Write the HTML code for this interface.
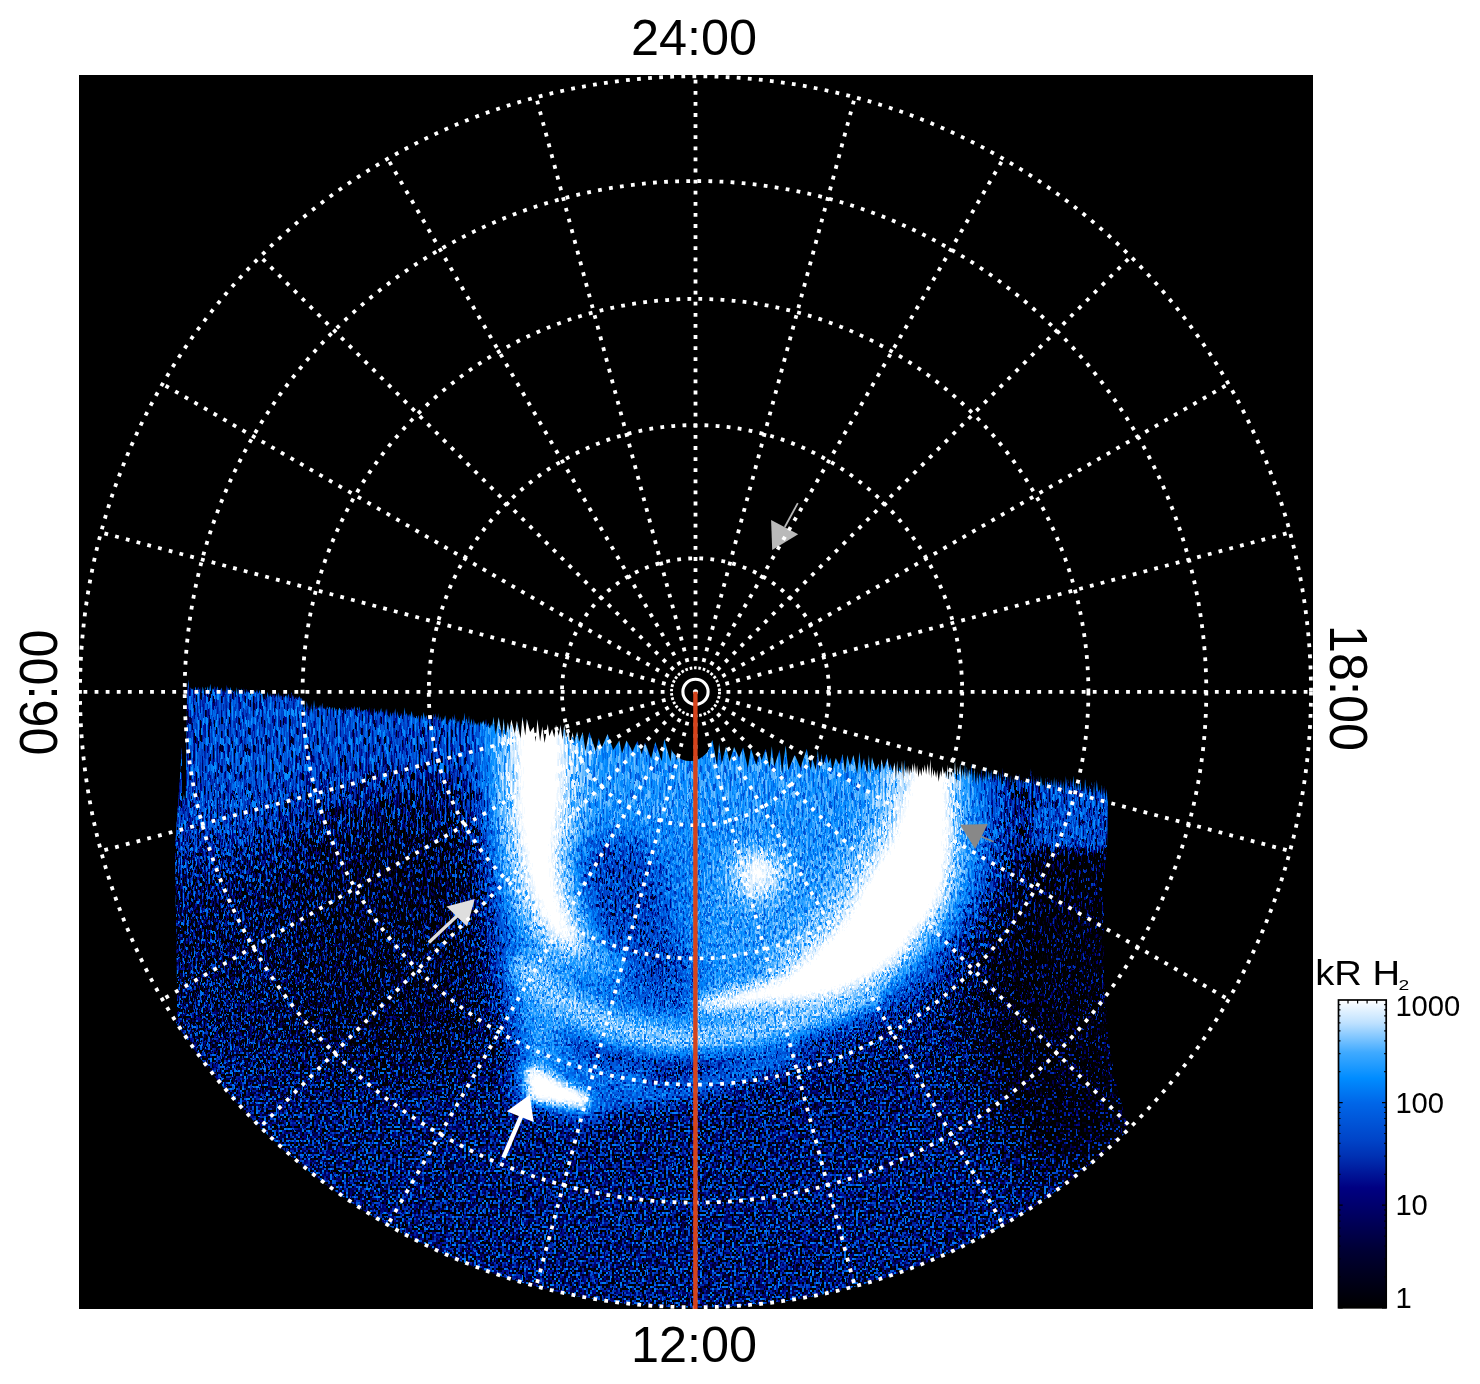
<!DOCTYPE html>
<html lang="en"><head><meta charset="utf-8"><title>Polar projection 24:00 06:00 12:00 18:00</title>
<style>html,body{margin:0;padding:0;background:#fff}svg{display:block}text{font-family:"Liberation Sans",sans-serif;fill:#000}</style></head><body>
<svg width="1480" height="1384" viewBox="0 0 1480 1384">
<defs>
<filter id="b30" x="-20%" y="-20%" width="140%" height="140%" color-interpolation-filters="sRGB"><feGaussianBlur stdDeviation="30"/></filter>
<filter id="b20" x="-20%" y="-20%" width="140%" height="140%" color-interpolation-filters="sRGB"><feGaussianBlur stdDeviation="20"/></filter>
<filter id="b12" x="-20%" y="-20%" width="140%" height="140%" color-interpolation-filters="sRGB"><feGaussianBlur stdDeviation="12"/></filter>
<filter id="b8" x="-20%" y="-20%" width="140%" height="140%" color-interpolation-filters="sRGB"><feGaussianBlur stdDeviation="8"/></filter>
<filter id="b6" x="-20%" y="-20%" width="140%" height="140%" color-interpolation-filters="sRGB"><feGaussianBlur stdDeviation="6"/></filter>
<filter id="b4" x="-20%" y="-20%" width="140%" height="140%" color-interpolation-filters="sRGB"><feGaussianBlur stdDeviation="4"/></filter>
<filter id="nz1" x="150" y="640" width="1010" height="690" filterUnits="userSpaceOnUse" color-interpolation-filters="sRGB">
<feTurbulence type="fractalNoise" baseFrequency="0.41 0.43" numOctaves="1" seed="3" result="t"/>
<feColorMatrix in="t" type="matrix" values="2.8 0 0 0 -0.8999999999999999  2.8 0 0 0 -0.8999999999999999  2.8 0 0 0 -0.8999999999999999  0 0 0 0 1" result="n0"/>
<feComponentTransfer in="n0" result="n"><feFuncR type="gamma" exponent="0.6"/><feFuncG type="gamma" exponent="0.6"/><feFuncB type="gamma" exponent="0.6"/></feComponentTransfer>
<feFlood flood-color="#fff" x="150" y="640" width="1" height="1" result="d"/><feComposite in="d" in2="d" operator="over" x="150" y="640" width="2" height="2" result="c"/><feTile in="c" result="grid"/><feComposite in="n" in2="grid" operator="in" result="smp"/><feOffset in="smp" dx="1" dy="0" result="o1"/><feMerge result="m1"><feMergeNode in="smp"/><feMergeNode in="o1"/></feMerge><feOffset in="m1" dx="0" dy="1" result="o2"/><feMerge result="np"><feMergeNode in="m1"/><feMergeNode in="o2"/></feMerge>
<feComponentTransfer in="SourceGraphic" result="ia"><feFuncG type="table" tableValues="0.750 0.744 0.738 0.731 0.725 0.719 0.713 0.706 0.700 0.675 0.650 0.625 0.600 0.575 0.544 0.512 0.480 0.451 0.422 0.394 0.365 0.336 0.307 0.279 0.250 0.231 0.212 0.194 0.175 0.159 0.155 0.152 0.148 0.144 0.140 0.137 0.133 0.130 0.095 0.060 0.000"/></feComponentTransfer>
<feColorMatrix in="ia" type="matrix" values="0.3333 -0.44 0 0 0.3333  0.3333 -0.44 0 0 0.3333  0.3333 -0.44 0 0 0.3333  0 0 0 0 1" result="T"/>
<feColorMatrix in="ia" type="matrix" values="0 1 0 0 0  0 1 0 0 0  0 1 0 0 0  0 0 0 0 1" result="A"/>
<feComposite in="A" in2="np" operator="arithmetic" k1="0.6667" k2="0" k3="0" k4="0" result="P"/>
<feComposite in="T" in2="P" operator="arithmetic" k1="0" k2="1" k3="1" k4="0" result="U"/>
<feComponentTransfer in="U">
<feFuncR type="table" tableValues="0.000 0.000 0.000 0.000 0.000 0.000 0.000 0.000 0.000 0.000 0.000 0.000 0.000 0.000 0.000 0.000 0.000 0.000 0.000 0.000 0.000 0.000 0.000 0.000 0.000 0.000 0.000 0.000 0.000 0.000 0.000 0.000 0.000 0.000 0.000 0.015 0.162 0.355 0.615 0.830 1.000 1.000 1.000 1.000 1.000 1.000 1.000 1.000 1.000 1.000 1.000 1.000 1.000 1.000 1.000 1.000 1.000 1.000 1.000 1.000 1.000"/>
<feFuncG type="table" tableValues="0.000 0.000 0.000 0.000 0.000 0.000 0.000 0.000 0.000 0.000 0.000 0.000 0.000 0.000 0.000 0.000 0.000 0.000 0.000 0.000 0.000 0.000 0.000 0.000 0.000 0.000 0.000 0.000 0.019 0.113 0.202 0.272 0.328 0.383 0.465 0.556 0.625 0.712 0.826 0.922 1.000 1.000 1.000 1.000 1.000 1.000 1.000 1.000 1.000 1.000 1.000 1.000 1.000 1.000 1.000 1.000 1.000 1.000 1.000 1.000 1.000"/>
<feFuncB type="table" tableValues="0.000 0.000 0.000 0.000 0.000 0.000 0.000 0.000 0.000 0.000 0.000 0.000 0.000 0.000 0.000 0.000 0.000 0.000 0.000 0.000 0.000 0.000 0.000 0.047 0.126 0.205 0.313 0.421 0.529 0.623 0.714 0.790 0.842 0.894 0.949 1.000 1.000 1.000 1.000 1.000 1.000 1.000 1.000 1.000 1.000 1.000 1.000 1.000 1.000 1.000 1.000 1.000 1.000 1.000 1.000 1.000 1.000 1.000 1.000 1.000 1.000"/>
</feComponentTransfer>
</filter>
<filter id="nz2" x="150" y="640" width="1010" height="690" filterUnits="userSpaceOnUse" color-interpolation-filters="sRGB">
<feTurbulence type="fractalNoise" baseFrequency="0.47 0.23" numOctaves="1" seed="11" result="t"/>
<feColorMatrix in="t" type="matrix" values="2.8 0 0 0 -0.8999999999999999  2.8 0 0 0 -0.8999999999999999  2.8 0 0 0 -0.8999999999999999  0 0 0 0 1" result="n0"/>
<feComponentTransfer in="n0" result="n"><feFuncR type="gamma" exponent="0.6"/><feFuncG type="gamma" exponent="0.6"/><feFuncB type="gamma" exponent="0.6"/></feComponentTransfer>
<feFlood flood-color="#fff" x="150" y="641" width="1" height="1" result="d0"/><feFlood flood-color="#fff" x="151" y="642" width="1" height="1" result="d1"/><feFlood flood-color="#fff" x="152" y="641" width="1" height="1" result="d2"/><feFlood flood-color="#fff" x="153" y="641" width="1" height="1" result="d3"/><feFlood flood-color="#fff" x="154" y="642" width="1" height="1" result="d4"/><feFlood flood-color="#fff" x="155" y="642" width="1" height="1" result="d5"/><feFlood flood-color="#fff" x="156" y="640" width="1" height="1" result="d6"/><feFlood flood-color="#fff" x="157" y="640" width="1" height="1" result="d7"/><feFlood flood-color="#fff" x="158" y="642" width="1" height="1" result="d8"/><feFlood flood-color="#fff" x="159" y="641" width="1" height="1" result="d9"/><feFlood flood-color="#fff" x="160" y="642" width="1" height="1" result="d10"/><feFlood flood-color="#fff" x="161" y="642" width="1" height="1" result="d11"/><feFlood flood-color="#fff" x="162" y="640" width="1" height="1" result="d12"/><feFlood flood-color="#fff" x="163" y="640" width="1" height="1" result="d13"/><feFlood flood-color="#fff" x="164" y="641" width="1" height="1" result="d14"/><feFlood flood-color="#fff" x="165" y="641" width="1" height="1" result="d15"/><feMerge x="150" y="640" width="16" height="3" result="c"><feMergeNode in="d0"/><feMergeNode in="d1"/><feMergeNode in="d2"/><feMergeNode in="d3"/><feMergeNode in="d4"/><feMergeNode in="d5"/><feMergeNode in="d6"/><feMergeNode in="d7"/><feMergeNode in="d8"/><feMergeNode in="d9"/><feMergeNode in="d10"/><feMergeNode in="d11"/><feMergeNode in="d12"/><feMergeNode in="d13"/><feMergeNode in="d14"/><feMergeNode in="d15"/></feMerge><feTile in="c" result="grid"/><feComposite in="n" in2="grid" operator="in" result="smp"/><feMorphology in="smp" operator="dilate" radius="0 1" result="np"/>
<feComponentTransfer in="SourceGraphic" result="ia"><feFuncG type="table" tableValues="0.750 0.744 0.738 0.731 0.725 0.719 0.713 0.706 0.700 0.675 0.650 0.625 0.600 0.575 0.544 0.512 0.480 0.451 0.422 0.394 0.365 0.336 0.307 0.279 0.250 0.231 0.212 0.194 0.175 0.159 0.155 0.152 0.148 0.144 0.140 0.137 0.133 0.130 0.095 0.060 0.000"/></feComponentTransfer>
<feColorMatrix in="ia" type="matrix" values="0.3333 -0.44 0 0 0.3333  0.3333 -0.44 0 0 0.3333  0.3333 -0.44 0 0 0.3333  0 0 0 0 1" result="T"/>
<feColorMatrix in="ia" type="matrix" values="0 1 0 0 0  0 1 0 0 0  0 1 0 0 0  0 0 0 0 1" result="A"/>
<feComposite in="A" in2="np" operator="arithmetic" k1="0.6667" k2="0" k3="0" k4="0" result="P"/>
<feComposite in="T" in2="P" operator="arithmetic" k1="0" k2="1" k3="1" k4="0" result="U"/>
<feComponentTransfer in="U">
<feFuncR type="table" tableValues="0.000 0.000 0.000 0.000 0.000 0.000 0.000 0.000 0.000 0.000 0.000 0.000 0.000 0.000 0.000 0.000 0.000 0.000 0.000 0.000 0.000 0.000 0.000 0.000 0.000 0.000 0.000 0.000 0.000 0.000 0.000 0.000 0.000 0.000 0.000 0.015 0.162 0.355 0.615 0.830 1.000 1.000 1.000 1.000 1.000 1.000 1.000 1.000 1.000 1.000 1.000 1.000 1.000 1.000 1.000 1.000 1.000 1.000 1.000 1.000 1.000"/>
<feFuncG type="table" tableValues="0.000 0.000 0.000 0.000 0.000 0.000 0.000 0.000 0.000 0.000 0.000 0.000 0.000 0.000 0.000 0.000 0.000 0.000 0.000 0.000 0.000 0.000 0.000 0.000 0.000 0.000 0.000 0.000 0.019 0.113 0.202 0.272 0.328 0.383 0.465 0.556 0.625 0.712 0.826 0.922 1.000 1.000 1.000 1.000 1.000 1.000 1.000 1.000 1.000 1.000 1.000 1.000 1.000 1.000 1.000 1.000 1.000 1.000 1.000 1.000 1.000"/>
<feFuncB type="table" tableValues="0.000 0.000 0.000 0.000 0.000 0.000 0.000 0.000 0.000 0.000 0.000 0.000 0.000 0.000 0.000 0.000 0.000 0.000 0.000 0.000 0.000 0.000 0.000 0.047 0.126 0.205 0.313 0.421 0.529 0.623 0.714 0.790 0.842 0.894 0.949 1.000 1.000 1.000 1.000 1.000 1.000 1.000 1.000 1.000 1.000 1.000 1.000 1.000 1.000 1.000 1.000 1.000 1.000 1.000 1.000 1.000 1.000 1.000 1.000 1.000 1.000"/>
</feComponentTransfer>
</filter>
<filter id="nz3" x="150" y="640" width="1010" height="690" filterUnits="userSpaceOnUse" color-interpolation-filters="sRGB">
<feTurbulence type="fractalNoise" baseFrequency="0.47 0.11" numOctaves="1" seed="23" result="t"/>
<feColorMatrix in="t" type="matrix" values="2.8 0 0 0 -0.8999999999999999  2.8 0 0 0 -0.8999999999999999  2.8 0 0 0 -0.8999999999999999  0 0 0 0 1" result="n0"/>
<feComponentTransfer in="n0" result="n"><feFuncR type="gamma" exponent="0.6"/><feFuncG type="gamma" exponent="0.6"/><feFuncB type="gamma" exponent="0.6"/></feComponentTransfer>
<feFlood flood-color="#fff" x="150" y="646" width="1" height="1" result="d0"/><feFlood flood-color="#fff" x="151" y="642" width="1" height="1" result="d1"/><feFlood flood-color="#fff" x="152" y="646" width="1" height="1" result="d2"/><feFlood flood-color="#fff" x="153" y="640" width="1" height="1" result="d3"/><feFlood flood-color="#fff" x="154" y="640" width="1" height="1" result="d4"/><feFlood flood-color="#fff" x="155" y="644" width="1" height="1" result="d5"/><feFlood flood-color="#fff" x="156" y="642" width="1" height="1" result="d6"/><feFlood flood-color="#fff" x="157" y="643" width="1" height="1" result="d7"/><feFlood flood-color="#fff" x="158" y="643" width="1" height="1" result="d8"/><feFlood flood-color="#fff" x="159" y="644" width="1" height="1" result="d9"/><feFlood flood-color="#fff" x="160" y="642" width="1" height="1" result="d10"/><feFlood flood-color="#fff" x="161" y="641" width="1" height="1" result="d11"/><feFlood flood-color="#fff" x="162" y="645" width="1" height="1" result="d12"/><feFlood flood-color="#fff" x="163" y="641" width="1" height="1" result="d13"/><feFlood flood-color="#fff" x="164" y="642" width="1" height="1" result="d14"/><feFlood flood-color="#fff" x="165" y="643" width="1" height="1" result="d15"/><feMerge x="150" y="640" width="16" height="7" result="c"><feMergeNode in="d0"/><feMergeNode in="d1"/><feMergeNode in="d2"/><feMergeNode in="d3"/><feMergeNode in="d4"/><feMergeNode in="d5"/><feMergeNode in="d6"/><feMergeNode in="d7"/><feMergeNode in="d8"/><feMergeNode in="d9"/><feMergeNode in="d10"/><feMergeNode in="d11"/><feMergeNode in="d12"/><feMergeNode in="d13"/><feMergeNode in="d14"/><feMergeNode in="d15"/></feMerge><feTile in="c" result="grid"/><feComposite in="n" in2="grid" operator="in" result="smp"/><feMorphology in="smp" operator="dilate" radius="0 3" result="np"/>
<feComponentTransfer in="SourceGraphic" result="ia"><feFuncG type="table" tableValues="0.750 0.744 0.738 0.731 0.725 0.719 0.713 0.706 0.700 0.675 0.650 0.625 0.600 0.575 0.544 0.512 0.480 0.451 0.422 0.394 0.365 0.336 0.307 0.279 0.250 0.231 0.212 0.194 0.175 0.159 0.155 0.152 0.148 0.144 0.140 0.137 0.133 0.130 0.095 0.060 0.000"/></feComponentTransfer>
<feColorMatrix in="ia" type="matrix" values="0.3333 -0.44 0 0 0.3333  0.3333 -0.44 0 0 0.3333  0.3333 -0.44 0 0 0.3333  0 0 0 0 1" result="T"/>
<feColorMatrix in="ia" type="matrix" values="0 1 0 0 0  0 1 0 0 0  0 1 0 0 0  0 0 0 0 1" result="A"/>
<feComposite in="A" in2="np" operator="arithmetic" k1="0.6667" k2="0" k3="0" k4="0" result="P"/>
<feComposite in="T" in2="P" operator="arithmetic" k1="0" k2="1" k3="1" k4="0" result="U"/>
<feComponentTransfer in="U">
<feFuncR type="table" tableValues="0.000 0.000 0.000 0.000 0.000 0.000 0.000 0.000 0.000 0.000 0.000 0.000 0.000 0.000 0.000 0.000 0.000 0.000 0.000 0.000 0.000 0.000 0.000 0.000 0.000 0.000 0.000 0.000 0.000 0.000 0.000 0.000 0.000 0.000 0.000 0.015 0.162 0.355 0.615 0.830 1.000 1.000 1.000 1.000 1.000 1.000 1.000 1.000 1.000 1.000 1.000 1.000 1.000 1.000 1.000 1.000 1.000 1.000 1.000 1.000 1.000"/>
<feFuncG type="table" tableValues="0.000 0.000 0.000 0.000 0.000 0.000 0.000 0.000 0.000 0.000 0.000 0.000 0.000 0.000 0.000 0.000 0.000 0.000 0.000 0.000 0.000 0.000 0.000 0.000 0.000 0.000 0.000 0.000 0.019 0.113 0.202 0.272 0.328 0.383 0.465 0.556 0.625 0.712 0.826 0.922 1.000 1.000 1.000 1.000 1.000 1.000 1.000 1.000 1.000 1.000 1.000 1.000 1.000 1.000 1.000 1.000 1.000 1.000 1.000 1.000 1.000"/>
<feFuncB type="table" tableValues="0.000 0.000 0.000 0.000 0.000 0.000 0.000 0.000 0.000 0.000 0.000 0.000 0.000 0.000 0.000 0.000 0.000 0.000 0.000 0.000 0.000 0.000 0.000 0.047 0.126 0.205 0.313 0.421 0.529 0.623 0.714 0.790 0.842 0.894 0.949 1.000 1.000 1.000 1.000 1.000 1.000 1.000 1.000 1.000 1.000 1.000 1.000 1.000 1.000 1.000 1.000 1.000 1.000 1.000 1.000 1.000 1.000 1.000 1.000 1.000 1.000"/>
</feComponentTransfer>
</filter>
<clipPath id="dc"><polygon points="186.0,670.0 243.0,667.0 301.0,674.0 306.0,683.0 365.0,686.0 413.0,691.0 462.0,697.0 510.0,703.0 549.0,708.0 597.0,716.0 646.0,722.0 690.0,725.0 743.0,732.0 792.0,735.0 840.0,738.0 921.0,746.0 982.0,751.0 1043.0,758.0 1083.0,762.0 1104.0,768.0 1108.0,775.0 1107.0,849.0 1104.0,875.0 1104.0,982.0 1108.6,1040.0 1116.0,1083.0 1127.0,1124.0 1140.0,1160.0 1140.0,1320.0 170.0,1320.0 170.0,1060.0 177.0,1015.0 177.0,988.0 175.0,848.0 180.0,777.0 186.0,688.0"/></clipPath>
<clipPath id="cc"><circle cx="695.5" cy="691.8" r="616.0"/></clipPath>
<linearGradient id="g2" gradientUnits="userSpaceOnUse" x1="0" y1="1120" x2="0" y2="900"><stop offset="0" stop-color="#000"/><stop offset="1" stop-color="#fff"/></linearGradient>
<linearGradient id="g3" gradientUnits="userSpaceOnUse" x1="0" y1="900" x2="0" y2="770"><stop offset="0" stop-color="#000"/><stop offset="1" stop-color="#fff"/></linearGradient>
<filter id="dith" x="150" y="640" width="1010" height="690" filterUnits="userSpaceOnUse" color-interpolation-filters="sRGB"><feTurbulence type="fractalNoise" baseFrequency="0.93 0.13" numOctaves="1" seed="5" result="t"/><feColorMatrix in="t" type="matrix" values="3 0 0 0 -1  3 0 0 0 -1  3 0 0 0 -1  0 0 0 0 1" result="n"/><feComposite in="SourceGraphic" in2="n" operator="arithmetic" k1="0" k2="1" k3="1" k4="-0.5"/><feComponentTransfer><feFuncR type="discrete" tableValues="0 1"/><feFuncG type="discrete" tableValues="0 1"/><feFuncB type="discrete" tableValues="0 1"/></feComponentTransfer></filter>
<mask id="m2" maskUnits="userSpaceOnUse" x="150" y="640" width="1010" height="690"><rect x="150" y="640" width="1010" height="690" fill="url(#g2)" filter="url(#dith)"/></mask>
<mask id="m3" maskUnits="userSpaceOnUse" x="150" y="640" width="1010" height="690"><rect x="150" y="640" width="1010" height="690" fill="url(#g3)" filter="url(#dith)"/></mask>
<g id="I">
<rect x="150" y="640" width="1010" height="690" fill="rgb(94,94,94)"/>
<g filter="url(#b30)">
<polygon points="150,800 300,800 300,1060 150,1040" fill="rgb(71,71,71)"/>
<polygon points="300,800 470,790 495,900 500,1000 470,1080 300,1070" fill="rgb(38,38,38)"/>
<polygon points="1020,850 1160,850 1160,1180 1040,1180 980,1080 970,960" fill="rgb(0,0,0)"/>
<polygon points="150,620 540,660 540,770 430,795 320,810 280,850 150,870" fill="rgb(145,145,145)"/>
</g>
<g filter="url(#b20)">
<polygon points="480,680 1005,720 1000,880 945,970 865,1020 770,1050 660,1058 560,1050 500,1010 488,900 480,800" fill="rgb(184,184,184)"/>
</g>
<g filter="url(#b12)">
<polygon points="560,700 925,730 915,800 880,850 700,830 600,830 565,800" fill="rgb(196,196,196)"/>
<polygon points="700,840 860,850 850,900 800,950 740,975 700,975" fill="rgb(199,199,199)"/>
<path d="M590,960 Q650,1000 700,1000" fill="none" stroke="rgb(153,153,153)" stroke-width="30"/>
<polygon points="566,846 636,840 662,880 668,930 690,960 686,984 650,980 606,960 572,920" fill="rgb(138,138,138)"/>
<ellipse cx="759" cy="874" rx="30" ry="30" fill="rgb(242,242,242)"/>
<polygon points="518,722 561,722 561,781 557,821 553,850 555,880 560,905 568,928 578,943 566,942 552,929 541,911 531,886 524,850 519,821 518,781" fill="rgb(235,235,235)" stroke="rgb(235,235,235)" stroke-width="48" stroke-linejoin="round"/>
<path d="M575,945 L598,962 L620,968" fill="none" stroke="rgb(219,219,219)" stroke-width="26" stroke-linecap="round"/>
<path d="M900,760 L890,816 L878,844 L858,873 L842,901 L824,929 L796,957 L770,972" fill="none" stroke="rgb(217,217,217)" stroke-width="46" stroke-linejoin="round"/>
<polygon points="914,750 944,750 946,790 946,845 943,873 936,901 915,929 893,957 868,976 836,993 800,997 800,968 814,957 842,929 859,901 874,873 893,844 902,816 911,788" fill="rgb(237,237,237)" stroke="rgb(237,237,237)" stroke-width="36" stroke-linejoin="round"/>
<polygon points="914,750 944,750 946,790 946,845 943,873 936,901 915,929 893,957 868,976 836,993 776,1001 727,1006 700,1007 700,1003 727,997 776,981 789,976 814,957 842,929 859,901 874,873 893,844 902,816 911,788" fill="rgb(230,230,230)" stroke="rgb(230,230,230)" stroke-width="14" stroke-linejoin="round"/>
<polygon points="914,750 944,750 946,790 946,845 943,873 936,901 915,929 893,957 868,976 836,993 800,997 800,968 814,957 842,929 859,901 874,873 893,844 902,816 911,788" fill="rgb(247,247,247)" stroke="rgb(247,247,247)" stroke-width="14" stroke-linejoin="round"/>
<path d="M531,1082 L585,1100" fill="none" stroke="rgb(214,214,214)" stroke-width="40" stroke-linecap="round"/>
<path d="M536,985 L545,1085" fill="none" stroke="rgb(204,204,204)" stroke-width="44"/>
</g>
<g filter="url(#b8)">
<path d="M524,968 L563,1003 L616,1028 L658,1037 L700,1038 L746,1033 L791,1021 L826,1007 L866,990" fill="none" stroke="rgb(224,224,224)" stroke-width="32" stroke-linejoin="round" stroke-linecap="round"/>
<ellipse cx="758" cy="874" rx="13" ry="17" fill="#fff"/>
<path d="M585,1100 L650,1097 L720,1080 L800,1050" fill="none" stroke="rgb(173,173,173)" stroke-width="20" stroke-linejoin="round"/>
<path d="M545,1050 L600,1075 L650,1078" fill="none" stroke="rgb(189,189,189)" stroke-width="18" stroke-linejoin="round"/>
</g>
<g filter="url(#b4)">
<polygon points="1038,750 1160,760 1160,849 1030,849" fill="rgb(148,148,148)"/>
<polygon points="1026,853 1160,853 1160,877 1040,877" fill="rgb(0,0,0)"/>
</g>
<g filter="url(#b6)">
<polygon points="518,722 561,722 561,781 557,821 553,850 555,880 560,905 568,928 578,943 566,942 552,929 541,911 531,886 524,850 519,821 518,781" fill="#fff" stroke="#fff" stroke-width="7" stroke-linejoin="round"/>
<polygon points="914,750 944,750 946,790 946,845 943,873 936,901 915,929 893,957 868,976 836,993 776,1001 727,1006 700,1007 700,1003 727,997 776,981 789,976 814,957 842,929 859,901 874,873 893,844 902,816 911,788" fill="#fff" stroke="#fff" stroke-width="7" stroke-linejoin="round"/>
</g>
<g filter="url(#b4)">
<polygon points="526,1068 540,1070 562,1083 588,1095 587,1107 560,1105 529,1100" fill="#fff" stroke="#fff" stroke-width="4" stroke-linejoin="round"/>
</g>
</g>
</defs>
<rect x="0" y="0" width="1480" height="1384" fill="#fff"/>
<rect x="79" y="75" width="1234" height="1234" fill="#000"/>
<g clip-path="url(#cc)"><g clip-path="url(#dc)">
<use href="#I" filter="url(#nz1)"/>
<use href="#I" filter="url(#nz2)" mask="url(#m2)"/>
<use href="#I" filter="url(#nz3)" mask="url(#m3)"/>
</g>
<path d="M182 640L182.0 798.1L183.1 801.3L183.9 794.1L184.8 799.6L185.6 798.2L187.1 691.9L188.4 679.8L189.5 691.3L190.5 687.3L192.0 690.0L193.3 687.9L194.1 690.3L195.5 686.5L196.8 691.5L198.2 686.4L199.5 690.1L200.8 686.9L201.7 694.6L202.7 686.5L204.1 691.8L205.1 687.0L206.4 691.1L207.9 686.3L208.8 692.5L210.4 683.7L211.5 694.1L212.4 688.2L213.3 690.0L214.8 685.9L216.1 690.9L217.6 686.1L218.6 690.7L219.6 687.7L220.5 690.1L221.6 687.5L222.7 692.1L224.0 689.5L225.3 693.6L226.8 684.8L227.9 690.8L228.7 687.7L229.7 691.0L230.6 686.8L231.4 691.6L232.3 689.7L233.4 692.5L235.0 689.9L235.9 694.0L236.9 686.9L237.7 696.1L238.6 687.3L240.2 692.5L241.2 688.6L242.6 692.1L243.7 687.6L245.3 694.3L246.7 688.7L248.0 692.9L249.0 689.8L250.5 695.7L252.1 691.0L253.1 694.8L254.1 690.3L255.5 693.1L257.0 689.5L258.5 693.8L259.7 689.8L260.8 694.9L261.9 690.7L263.3 701.0L264.8 690.9L266.4 699.5L267.6 691.7L268.9 697.7L270.1 693.0L271.0 696.9L272.0 693.7L273.2 696.6L274.3 692.9L275.8 697.2L277.0 693.2L277.8 698.5L278.6 692.3L279.8 697.7L280.8 694.9L282.3 697.1L283.3 693.5L284.5 697.9L286.0 694.0L287.2 698.6L288.4 693.6L289.9 697.9L291.5 692.0L293.0 697.6L294.2 694.4L295.0 698.2L296.6 696.6L297.9 698.7L299.5 695.7L300.6 698.8L302.0 698.3L303.3 708.2L304.3 703.6L305.5 713.2L306.8 701.1L308.2 710.3L309.0 705.3L309.9 713.1L311.4 703.2L312.6 714.0L314.0 699.7L315.3 711.0L316.2 705.2L317.2 708.3L318.2 706.9L319.2 708.7L320.1 704.6L321.1 708.7L322.3 702.7L323.1 708.9L324.4 707.2L325.9 710.1L327.1 705.9L328.2 709.7L329.8 705.6L331.1 710.1L332.2 707.1L333.6 711.8L334.5 707.1L335.8 710.5L336.8 707.3L338.0 711.0L339.6 707.3L341.1 710.5L341.9 707.8L343.1 712.8L343.9 708.5L344.8 711.4L345.8 706.3L347.2 710.8L348.7 708.3L350.3 709.7L351.6 706.7L353.1 710.2L354.5 706.1L355.7 712.0L357.2 706.7L358.5 710.5L359.4 706.3L360.3 712.4L361.6 709.5L362.8 712.0L364.2 709.4L365.5 710.6L366.5 709.1L367.9 712.4L369.4 707.6L370.6 714.9L371.9 707.7L372.9 713.2L374.2 708.1L375.5 713.3L376.5 710.5L377.7 715.2L378.7 709.4L379.5 713.5L381.1 707.9L382.0 712.6L383.3 711.1L384.9 715.7L386.1 708.6L387.1 712.6L387.9 708.6L389.0 719.9L390.1 711.9L391.6 716.4L392.9 711.2L394.0 714.7L395.3 708.3L396.3 717.0L397.3 711.2L398.4 717.3L399.5 711.0L400.9 716.1L402.5 710.9L403.3 716.7L404.7 707.5L405.5 715.6L406.6 713.1L408.2 716.9L409.2 713.7L410.2 716.8L411.7 710.9L413.2 718.4L414.1 714.0L415.0 718.8L416.3 713.6L417.4 719.2L418.5 714.9L420.1 719.4L421.4 714.8L422.4 720.0L423.5 712.1L425.0 718.5L426.6 714.9L427.4 720.2L428.8 716.2L429.8 719.9L431.0 714.5L432.4 723.8L433.6 713.8L434.6 718.4L435.6 713.6L436.9 720.4L438.1 713.3L439.1 722.0L440.3 716.3L441.8 722.4L442.8 718.3L443.8 720.6L445.2 715.2L446.5 720.7L447.3 718.2L448.7 721.5L450.1 718.1L451.7 720.9L452.6 716.0L453.7 721.1L454.6 713.7L456.0 725.4L456.9 718.6L457.8 723.5L459.3 719.1L460.8 727.6L462.4 719.4L463.5 721.5L464.4 712.6L465.5 723.1L466.5 716.8L467.9 725.4L469.0 715.6L470.1 726.3L471.6 718.5L472.4 725.9L473.8 718.6L474.8 725.6L475.8 722.4L476.9 725.5L478.4 721.9L479.2 727.0L480.8 721.5L481.8 724.4L483.3 720.3L484.7 725.4L486.0 719.0L487.1 726.5L488.5 722.8L489.7 728.4L491.2 724.0L492.1 726.7L493.5 716.7L495.7 734.7L498.7 716.9L502.1 736.4L503.6 718.5L505.6 735.8L507.8 722.2L509.5 730.5L511.3 719.4L514.8 733.6L516.9 720.8L520.6 738.4L522.4 716.7L525.3 735.7L526.8 718.7L530.1 732.0L533.7 726.8L535.7 742.0L537.4 719.2L540.1 741.5L542.3 726.5L544.6 742.9L547.8 723.9L549.3 736.2L552.1 729.1L554.3 737.4L556.0 724.7L558.8 735.7L560.5 725.1L562.6 739.4L564.2 724.6L566.0 737.5L568.6 729.3L570.1 743.9L572.7 732.3L574.1 742.3L577.1 731.6L579.1 742.1L582.7 732.1L585.4 751.3L589.3 732.0L595.8 751.3L598.7 738.1L601.6 748.1L607.6 734.0L613.3 750.0L619.3 740.5L622.0 753.4L626.5 740.5L632.6 751.2L637.4 741.1L641.7 754.2L645.0 742.5L651.1 758.8L655.3 742.1L661.7 761.3L664.2 739.0L670.6 761.7L672.9 734.1L676.6 760.8L681.4 736.2L684.1 755.9L687.1 736.0L692.9 754.2L695.8 741.0L699.6 753.9L703.3 739.3L706.4 753.7L712.4 740.1L717.0 765.5L719.1 743.1L721.7 763.3L726.1 746.3L729.5 761.8L734.1 747.0L739.1 757.8L743.1 747.6L747.9 768.2L750.9 748.5L756.4 765.0L759.2 753.3L761.7 760.3L765.7 748.8L769.7 767.9L771.8 746.2L774.2 766.6L779.7 749.7L782.0 772.7L785.7 745.5L788.3 770.3L794.7 754.7L800.4 767.9L806.8 748.8L810.5 770.0L812.1 757.6L815.8 770.0L817.9 749.7L819.5 770.9L821.4 753.8L823.0 765.0L826.6 754.1L828.5 763.6L830.5 757.8L832.2 770.3L835.8 758.0L839.3 765.1L842.6 753.9L845.1 773.2L847.3 754.9L849.9 766.0L853.4 755.0L857.2 773.7L859.4 752.0L861.3 769.7L864.0 757.9L867.2 774.1L868.9 754.7L870.2 773.4L872.0 757.3L875.8 770.7L878.7 763.5L879.9 774.1L881.5 759.0L883.8 769.7L887.4 758.1L889.2 768.9L890.4 763.9L892.5 771.4L894.7 762.3L895.9 778.5L897.2 760.4L898.2 774.2L899.7 766.8L900.7 771.5L902.0 760.6L903.2 780.2L904.1 759.8L905.3 773.3L906.1 766.1L907.0 774.1L908.2 765.6L909.1 776.1L910.0 767.9L911.4 773.3L912.7 763.4L913.9 772.6L914.7 762.5L916.1 774.4L917.1 765.0L918.5 777.5L919.9 768.8L921.4 776.2L922.3 766.8L923.7 772.9L924.8 764.5L926.1 774.7L927.7 763.5L929.1 775.7L930.4 758.9L931.4 778.7L932.3 766.7L933.4 776.5L934.7 769.7L936.1 778.0L937.2 769.9L938.7 782.1L940.3 770.3L941.2 777.1L942.6 766.3L943.9 774.3L945.3 770.8L946.5 778.1L947.5 764.4L948.5 781.7L950.0 766.0L951.2 777.2L952.5 770.9L954.0 773.7L955.0 760.5L956.4 784.0L957.6 766.2L958.6 776.1L960.2 763.5L961.6 779.8L962.4 768.0L963.9 777.3L965.0 763.4L965.8 781.0L966.9 766.6L968.0 778.6L969.1 768.4L970.5 776.1L971.6 763.8L972.9 783.6L974.3 768.2L975.8 784.2L977.2 771.3L978.2 784.9L979.1 773.1L980.5 778.6L981.4 768.8L982.8 783.6L983.8 774.0L984.9 781.2L986.3 766.2L987.6 781.8L988.8 770.8L989.9 778.5L991.0 769.6L992.6 782.0L994.0 773.2L995.2 780.5L996.1 771.2L997.4 781.0L998.6 771.2L999.7 782.6L1000.7 772.7L1001.8 788.0L1002.6 767.9L1004.2 783.6L1005.4 770.9L1006.7 785.5L1007.8 774.2L1009.2 786.0L1010.1 775.3L1010.9 782.2L1011.7 774.9L1013.1 784.8L1014.1 776.1L1015.3 787.2L1016.4 773.5L1017.8 781.7L1019.1 773.8L1020.2 783.7L1021.6 777.7L1022.9 786.6L1024.0 777.0L1025.1 781.0L1026.0 777.3L1027.0 784.2L1028.2 776.8L1029.5 781.9L1031.0 768.0L1032.6 788.7L1033.9 775.5L1035.2 787.5L1036.2 773.9L1037.1 788.6L1038.0 775.7L1039.5 793.9L1040.9 775.6L1042.1 786.8L1043.6 780.1L1044.6 790.9L1045.4 777.5L1046.6 789.2L1047.4 776.8L1048.7 786.5L1049.8 777.2L1050.7 788.0L1051.5 779.5L1053.0 787.4L1054.2 777.1L1055.1 790.2L1056.1 778.6L1057.3 787.5L1058.3 776.7L1059.5 787.5L1061.0 779.3L1062.0 790.4L1063.3 780.9L1064.4 796.2L1065.7 775.9L1067.2 786.7L1068.0 778.9L1069.3 789.9L1070.8 778.9L1072.1 787.4L1073.5 775.8L1074.6 791.6L1075.5 781.7L1076.8 790.3L1078.2 781.6L1079.3 791.1L1080.4 778.2L1081.2 790.9L1082.7 784.9L1083.9 793.8L1085.1 777.5L1086.3 791.0L1087.3 785.4L1088.6 796.8L1089.5 785.2L1090.9 789.6L1091.8 781.5L1093.2 794.3L1094.1 781.6L1095.2 797.6L1096.8 779.7L1098.1 792.5L1099.5 789.3L1100.7 795.1L1101.9 784.8L1102.9 797.1L1104.2 785.8L1105.3 799.2L1106.7 788.9L1107.6 801.6L1109.0 792.2L1110.6 803.0L1111.7 793.2L1112 640Z" fill="#000"/><circle cx="690" cy="740" r="21" fill="#000"/>
</g>
<path d="M797.8 503.1L784.8 527" stroke="#b9b9b9" stroke-width="1.8" fill="none"/>
<polygon points="771.1,520.1 798.2,534.2 772.2,550.1" fill="#b9b9b9"/>
<path d="M428.8 942.5L458 915" stroke="#dedede" stroke-width="3.3" fill="none"/>
<polygon points="446.5,906.4 474.7,899.1 467.1,926.6" fill="#dedede"/>
<path d="M993.6 841.7L981.5 836.4" stroke="#888" stroke-width="1.6" fill="none"/>
<polygon points="960,824.7 987.8,824 975.2,848.9" fill="#888"/>
<path d="M503.4 1157.6L521.5 1115.5" stroke="#fff" stroke-width="4.4" fill="none"/>
<polygon points="506.9,1111.2 529.8,1094.7 533.7,1122" fill="#fff"/>
<g fill="none" stroke="#fff" stroke-width="3.8" stroke-dasharray="3.8 7.3">
<circle cx="695.5" cy="691.8" r="615.5"/>
<circle cx="695.5" cy="691.8" r="510.8"/>
<circle cx="695.5" cy="691.8" r="392.9"/>
<circle cx="695.5" cy="691.8" r="266.7"/>
<circle cx="695.5" cy="691.8" r="133.5"/>
<path d="M726.5 691.8L1311.0 691.8"/>
<path d="M725.4 699.8L1290.0 851.1"/>
<path d="M722.3 707.3L1228.5 999.5"/>
<path d="M717.4 713.7L1130.7 1127.0"/>
<path d="M711.0 718.6L1003.2 1224.8"/>
<path d="M703.5 721.7L854.8 1286.3"/>
<path d="M695.5 722.8L695.5 1307.3"/>
<path d="M687.5 721.7L536.2 1286.3"/>
<path d="M680.0 718.6L387.8 1224.8"/>
<path d="M673.6 713.7L260.3 1127.0"/>
<path d="M668.7 707.3L162.5 999.5"/>
<path d="M665.6 699.8L101.0 851.1"/>
<path d="M664.5 691.8L80.0 691.8"/>
<path d="M665.6 683.8L101.0 532.5"/>
<path d="M668.7 676.3L162.5 384.0"/>
<path d="M673.6 669.9L260.3 256.6"/>
<path d="M680.0 665.0L387.7 158.8"/>
<path d="M687.5 661.9L536.2 97.3"/>
<path d="M695.5 660.8L695.5 76.3"/>
<path d="M703.5 661.9L854.8 97.3"/>
<path d="M711.0 665.0L1003.2 158.8"/>
<path d="M717.4 669.9L1130.7 256.6"/>
<path d="M722.3 676.3L1228.5 384.0"/>
<path d="M725.4 683.8L1290.0 532.5"/>
</g>
<circle cx="695.5" cy="691.8" r="24" fill="none" stroke="#fff" stroke-width="2.9" stroke-dasharray="2.6 1.835"/>
<circle cx="695.5" cy="691.8" r="12.6" fill="none" stroke="#fff" stroke-width="3.1"/>
<circle cx="695.5" cy="691.8" r="2.6" fill="#fff"/>
<path d="M695.4 691.8V1309" stroke="#d5431b" stroke-width="4.4" fill="none"/>
<text x="694" y="55.2" font-size="50.4" text-anchor="middle">24:00</text>
<text x="694" y="1362.2" font-size="50.4" text-anchor="middle">12:00</text>
<text transform="translate(57.2 692.5) rotate(-90) scale(1 1.06)" font-size="50.4" text-anchor="middle">06:00</text>
<text transform="translate(1329.9 688.0) rotate(90) scale(1 1.06)" font-size="50.4" text-anchor="middle">18:00</text>
<linearGradient id="cb" x1="0" y1="0" x2="0" y2="1"><stop offset="0.000" stop-color="rgb(255,255,255)"/><stop offset="0.075" stop-color="rgb(190,225,255)"/><stop offset="0.170" stop-color="rgb(64,170,255)"/><stop offset="0.255" stop-color="rgb(0,140,255)"/><stop offset="0.335" stop-color="rgb(0,102,232)"/><stop offset="0.455" stop-color="rgb(0,68,200)"/><stop offset="0.510" stop-color="rgb(0,48,178)"/><stop offset="0.610" stop-color="rgb(0,0,130)"/><stop offset="0.670" stop-color="rgb(0,0,108)"/><stop offset="0.815" stop-color="rgb(0,0,52)"/><stop offset="1.000" stop-color="rgb(0,0,0)"/></linearGradient>
<rect x="1338.5" y="1000.0" width="47.7" height="307.8" fill="url(#cb)" stroke="#000" stroke-width="1.7"/>
<path d="M1338.5 1307.8h4.2M1386.2 1307.8h-4.2M1338.5 1276.9h2.0M1386.2 1276.9h-2.0M1338.5 1258.8h2.0M1386.2 1258.8h-2.0M1338.5 1246.0h2.0M1386.2 1246.0h-2.0M1338.5 1236.1h2.0M1386.2 1236.1h-2.0M1338.5 1228.0h2.0M1386.2 1228.0h-2.0M1338.5 1221.1h2.0M1386.2 1221.1h-2.0M1338.5 1215.1h2.0M1386.2 1215.1h-2.0M1338.5 1209.9h2.0M1386.2 1209.9h-2.0M1338.5 1205.2h4.2M1386.2 1205.2h-4.2M1338.5 1174.3h2.0M1386.2 1174.3h-2.0M1338.5 1156.2h2.0M1386.2 1156.2h-2.0M1338.5 1143.4h2.0M1386.2 1143.4h-2.0M1338.5 1133.5h2.0M1386.2 1133.5h-2.0M1338.5 1125.4h2.0M1386.2 1125.4h-2.0M1338.5 1118.5h2.0M1386.2 1118.5h-2.0M1338.5 1112.5h2.0M1386.2 1112.5h-2.0M1338.5 1107.3h2.0M1386.2 1107.3h-2.0M1338.5 1102.6h4.2M1386.2 1102.6h-4.2M1338.5 1071.7h2.0M1386.2 1071.7h-2.0M1338.5 1053.6h2.0M1386.2 1053.6h-2.0M1338.5 1040.8h2.0M1386.2 1040.8h-2.0M1338.5 1030.9h2.0M1386.2 1030.9h-2.0M1338.5 1022.8h2.0M1386.2 1022.8h-2.0M1338.5 1015.9h2.0M1386.2 1015.9h-2.0M1338.5 1009.9h2.0M1386.2 1009.9h-2.0M1338.5 1004.7h2.0M1386.2 1004.7h-2.0M1348.0 1000.0v3.5M1357.6 1000.0v3.5M1367.1 1000.0v3.5M1376.7 1000.0v3.5" stroke="#000" stroke-width="1.2" fill="none"/>
<text transform="translate(1315.2 984.6) scale(1 0.94)" font-size="38.2">kR H</text>
<text transform="translate(1398.6 989.7) scale(1.4 1)" font-size="13.8">2</text>
<text x="1395.4" y="1016.3" font-size="29.2">1000</text>
<text x="1395.4" y="1112.6" font-size="29.2">100</text>
<text x="1395.4" y="1214.8" font-size="29.2">10</text>
<text x="1395.4" y="1307.9" font-size="29.2">1</text>
</svg></body></html>
